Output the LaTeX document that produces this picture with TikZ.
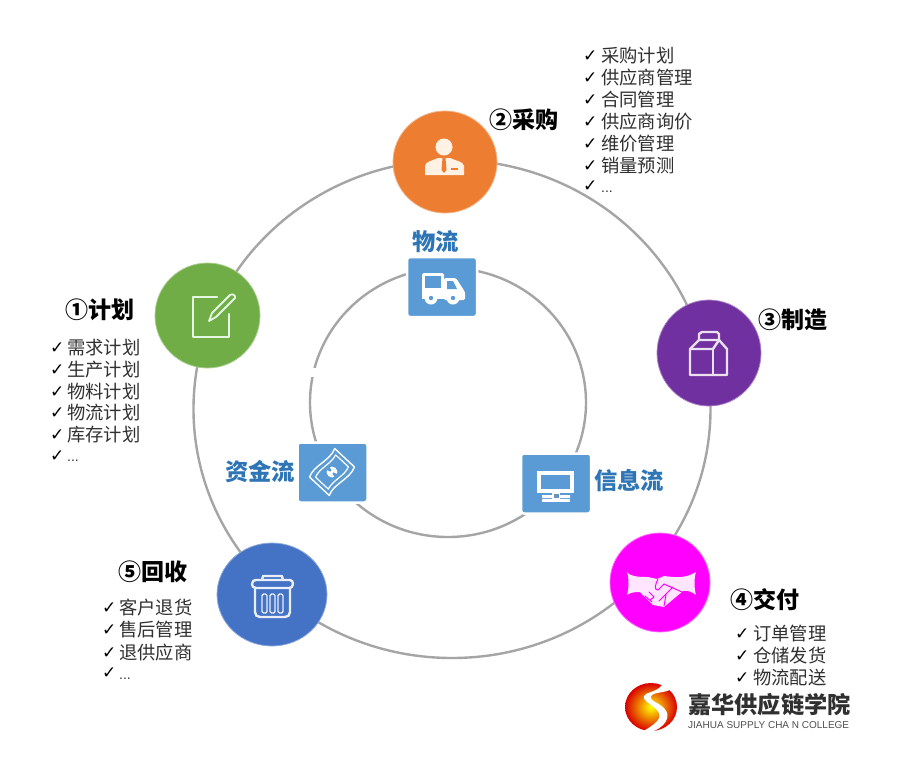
\documentclass[tikz,border=0pt]{standalone}
\usepackage{fontspec}
\usetikzlibrary{shapes.geometric,calc}
\setmainfont{Liberation Sans}
\newfontfamily\cjk{Noto Sans CJK SC}
\newfontfamily\dv{DejaVu Sans}
\definecolor{ringgray}{HTML}{A5A5A5}
\definecolor{sqblue}{HTML}{5B9BD5}
\definecolor{lblblue}{HTML}{2E75B6}
\definecolor{cgreen}{HTML}{70AD47}
\definecolor{corange}{HTML}{ED7D31}
\definecolor{cpurple}{HTML}{7030A0}
\definecolor{cmag}{HTML}{FF00FF}
\definecolor{cblue}{HTML}{4472C4}
\definecolor{txt}{HTML}{303030}
\tikzset{
  ring/.style={draw=ringgray,line width=2.4pt},
  hub/.style={ellipse,inner sep=0,line width=.8pt},
  sqbox/.style={rounded corners=3pt,fill=sqblue,draw=white,line width=2.5pt,inner sep=0,minimum width=70pt,minimum height=60pt},
  head/.style={anchor=west,inner sep=0,font=\cjk\bfseries\fontsize{23}{25}\selectfont,text=black},
  flow/.style={anchor=west,inner sep=0,font=\cjk\bfseries\fontsize{23.3}{25}\selectfont,text=lblblue},
  item/.style={anchor=west,inner sep=0,font=\cjk\fontsize{18.3}{20}\selectfont,text=txt},
  dots/.style={anchor=west,inner sep=0,font=\fontsize{14}{15}\selectfont,text=txt},
  tick/.style={anchor=west,inner sep=0,font=\dv\fontsize{17}{18}\selectfont,text=black},
  icon/.style={line width=2.4pt,line join=round,line cap=round},
}
% name, x of the check mark, x of the text, y, text
\newcommand{\itemrow}[5]{%
  \node[tick] (#1c) at (#2,#4) {✓};
  \node[item] (#1) at (#3,#4) {#5};
}
% name, x of the check mark, x of the dots, y of the check mark, y of the dots
\newcommand{\dotrow}[5]{%
  \node[tick] (#1c) at (#2,#4) {✓};
  \node[dots] (#1) at (#3,#5) {...};
}
\begin{document}
\begin{tikzpicture}[x=1pt,y=-1pt]
\useasboundingbox (0,0) rectangle (900,761);
\fill[white] (0,0) rectangle (900,761);
% rings
\coordinate (oc) at (452,409);
\coordinate (ic) at (448,402.5);
\draw[ring] (oc) ellipse [x radius=258.5,y radius=249];
\draw[ring] (ic) ellipse [x radius=138,y radius=134.5];
\fill[white] (305,368) rectangle (320,377);
% hubs
\node[hub,fill=cgreen,draw=cgreen!60,minimum width=105pt,minimum height=105pt] (plan) at (207.5,315.5) {};
\node[hub,fill=corange,draw=corange!60,minimum width=104pt,minimum height=102pt] (buy) at (445,162) {};
\node[hub,fill=cpurple,draw=cpurple!60,minimum width=104pt,minimum height=106pt] (make) at (709,353) {};
\node[hub,fill=cmag,draw=cmag!60,minimum width=100pt,minimum height=99pt] (give) at (660,582.5) {};
\node[hub,fill=cblue,draw=cblue!60,minimum width=110pt,minimum height=103pt] (back) at (272,594.5) {};
% squares
\node[sqbox] (truck) at (442,287) {};
\node[sqbox] (money) at (332.5,472.5) {};
\node[sqbox] (screen) at (556,483.5) {};
% headings
\node[head] (h1) at (65,310) {①计划};
\node[head] (h2) at (489,120) {②采购};
\node[head] (h3) at (758,320) {③制造};
\node[head] (h4) at (730,600) {④交付};
\node[head] (h5) at (118,572) {⑤回收};
% flow labels
\node[flow] (f1) at (412,242) {物流};
\node[flow] (f2) at (225,472) {资金流};
\node[flow] (f3) at (594,481) {信息流};
% lists
\itemrow{a1}{50}{67}{348}{需求计划}
\itemrow{a2}{50}{67}{370}{生产计划}
\itemrow{a3}{50}{67}{392}{物料计划}
\itemrow{a4}{50}{67}{413}{物流计划}
\itemrow{a5}{50}{67}{435}{库存计划}
\dotrow{a6}{50}{67}{456}{461}
\itemrow{b1}{583}{601}{56}{采购计划}
\itemrow{b2}{583}{601}{78}{供应商管理}
\itemrow{b3}{583}{601}{100}{合同管理}
\itemrow{b4}{583}{601}{122}{供应商询价}
\itemrow{b5}{583}{601}{144}{维价管理}
\itemrow{b6}{583}{601}{166}{销量预测}
\dotrow{b7}{583}{601}{186}{192}
\itemrow{d1}{735}{753}{634}{订单管理}
\itemrow{d2}{735}{753}{656}{仓储发货}
\itemrow{d3}{735}{753}{678}{物流配送}
\itemrow{e1}{102}{119}{608}{客户退货}
\itemrow{e2}{102}{119}{630}{售后管理}
\itemrow{e3}{102}{119}{653}{退供应商}
\dotrow{e4}{102}{119}{673}{679}
% person icon
\fill[orange!10] (444,147) circle (8.5);
\fill[orange!10] (425,175) -- (425,166) .. controls (426,161) and (432,161) .. (438,158) -- (450,158) .. controls (456,161) and (463,161) .. (464,166) -- (464,175) -- cycle;
\fill[corange] (442.5,158) -- (445.5,158) -- (446.5,170) -- (444,173) -- (441.5,170) -- cycle;
\fill[corange] (451,168) rectangle (458,170);
% note icon
\draw[icon,draw=green!5!white!90!cgreen] (217,297) -- (193,297) -- (193,337) -- (229,337) -- (229,314);
\draw[icon,draw=green!5!white!90!cgreen,line width=1.8pt] (209,321) -- (212,313) -- (230,295) .. controls (233,293) and (236,296) .. (235,298) -- (216,317) -- cycle;
% milk box icon
\draw[icon,draw=cpurple!15!white] (699,340) -- (699,334) -- (702,332) -- (717,332) -- (719,334) -- (719,340) -- cycle;
\draw[icon,draw=cpurple!15!white] (699,340) -- (690,349) -- (690,375) -- (727,375) -- (727,349) -- (719,340);
\draw[icon,draw=cpurple!15!white] (690,349) -- (713,349) -- (719,340);
\draw[icon,draw=cpurple!15!white] (713,349) -- (713,375);
% handshake icon
\fill[white!90!cmag] (627,572) .. controls (630,576) and (636,577) .. (648,577) -- (657,579) -- (664,576) .. controls (672,577) and (680,578) .. (687,576) .. controls (690,575) and (693,574) .. (696,572)
  .. controls (694,578) and (694,588) .. (696,595) .. controls (692,592) and (688,590) .. (683,591) -- (664,607) -- (653,605) -- (640,592) .. controls (636,592) and (631,592) .. (627,595) .. controls (629,588) and (629,578) .. cycle;
\draw[cmag,line width=1pt,line cap=round] (658,579) .. controls (655,585) and (654,590) .. (658,590) -- (664,584) -- (682,592)
  (673,587) -- (662,598) (669,591) -- (659,601) (666,595) -- (664,606)
  (649,592) -- (654,597) (645,596) -- (652,602) (654,597) -- (650,600);
% bin icon
\draw[icon,draw=cblue!12!white] (256,580) -- (290,580) .. controls (292,580) and (293,582) .. (293,584) .. controls (293,587) and (291,588) .. (289,588) -- (256,588) .. controls (253,588) and (252,586) .. (252,584) .. controls (252,581) and (254,580) .. (256,580);
\draw[icon,draw=cblue!12!white] (262,580) -- (263,576) -- (282,576) -- (283,580);
\draw[icon,draw=cblue!12!white] (255,588) -- (255,612) .. controls (255,615) and (257,617) .. (260,617) -- (285,617) .. controls (288,617) and (290,615) .. (290,612) -- (290,588);
\foreach \sx in {262,270,278}
  \draw[cblue!12!white,line width=1.4pt,rounded corners=1.5pt] (\sx,594) rectangle (\sx+5,613);
% truck icon
\fill[white,rounded corners=1.5pt] (422,273) rectangle (444,298);
\fill[sqblue] (425,276) rectangle (441,288);
\fill[white,rounded corners=1.5pt] (444,278) -- (456,278) -- (465,292) -- (465,300) -- (444,300) -- cycle;
\fill[sqblue] (447,281) -- (453,281) -- (457,289) -- (447,289) -- cycle;
\fill[white] (422,292) rectangle (465,299);
\foreach \wx in {431,453} {
  \fill[white] (\wx,298) circle (6.5);
  \fill[sqblue] (\wx,298) circle (2.2);
}
% banknote icon
\begin{scope}[shift={(332,472)},rotate=47]
\draw[white,line width=1.4pt,line join=round] (-19,-13) .. controls (-8,-18) and (7,-9) .. (19,-14) -- (19,13) .. controls (7,18) and (-8,9) .. (-19,14) -- cycle;
\draw[white,line width=1.2pt,line join=round] (-15,-8.5) .. controls (-6,-12) and (6,-6) .. (15,-9) -- (15,8.5) .. controls (6,12) and (-6,6) .. (-15,9) -- cycle;
\fill[white] (0,0) circle (5.5);
\fill[sqblue] (-2.2,-5.5) -- (2.2,-5.5) -- (.8,-1.5) -- (-.8,-1.5) -- cycle;
\fill[sqblue] (-2.2,5.5) -- (2.2,5.5) -- (.8,1.5) -- (-.8,1.5) -- cycle;
\end{scope}
% monitor icon
\fill[white] (537,471) rectangle (574,493);
\fill[sqblue] (541,475) rectangle (570,489);
\fill[white] (542,495) rectangle (552,498) (560,495) rectangle (570,498);
\fill[white] (542,498.5) rectangle (570,502);
\fill[white] (552,493) rectangle (560,499);
\fill[sqblue!70!gray] (553.5,494) rectangle (558.5,498);
% logo
\shade[inner color=yellow,middle color=orange,outer color=red!85!black] (651,707) ellipse [x radius=26,y radius=24];
\fill[white] (664,680) .. controls (662,690) and (652,691) .. (646,694) .. controls (639,699) and (650,703) .. (657,710) .. controls (664,718) and (656,724) .. (640,733)
  -- (648,733) .. controls (666,728) and (672,716) .. (664,708) .. controls (658,702) and (649,701) .. (651,696) .. controls (655,691) and (668,694) .. (676,686) -- (676,680) -- cycle;
\node[anchor=west,inner sep=0,font=\cjk\bfseries\fontsize{23.2}{25}\selectfont,text=txt] (lg1) at (688,705) {嘉华供应链学院};
\node[anchor=west,inner sep=0,font=\fontsize{10}{11}\selectfont,text=txt!85] (lg2) at (688,725) {JIAHUA SUPPLY CHA N COLLEGE};
\end{tikzpicture}
\end{document}
